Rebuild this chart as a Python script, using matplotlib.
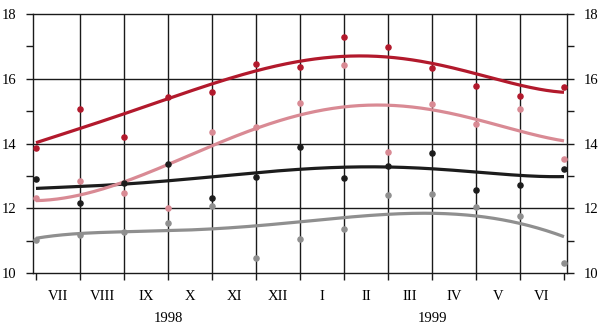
import numpy as np
import matplotlib
matplotlib.use("Agg")
import matplotlib.pyplot as plt
from matplotlib.transforms import blended_transform_factory

# Month boundaries July 1998 .. July 1999 (13 points)
months = ["VII", "VIII", "IX", "X", "XI", "XII", "I", "II", "III", "IV", "V", "VI"]
years = ["1998", "1999"]
year_pos = [3, 9]

# Observed values at each month boundary
red_obs = [13.87, 15.08, 14.20, 15.45, 15.60, 16.47, 16.37, 17.30, 16.97, 16.34, 15.77, 15.47, 15.74]
pink_obs = [12.33, 12.86, 12.47, 12.00, 14.35, 14.52, 15.26, 16.42, 13.75, 15.23, 14.61, 15.06, 13.53]
black_obs = [12.90, 12.16, 12.78, 13.36, 12.33, 12.96, 13.91, 12.93, 13.31, 13.72, 12.57, 12.72, 13.21]
gray_obs = [11.03, 11.18, 11.28, 11.56, 12.09, 10.48, 11.06, 11.37, 12.41, 12.44, 12.04, 11.77, 10.33]

# Smoothed trend values at the same boundaries
red_trend = [14.02, 14.49, 14.91, 15.38, 15.83, 16.25, 16.55, 16.69, 16.71, 16.42, 16.15, 15.84, 15.57]
pink_trend = [12.21, 12.49, 12.83, 13.27, 13.88, 14.55, 14.94, 15.12, 15.16, 14.99, 14.76, 14.44, 14.06]
black_trend = [12.62, 12.67, 12.76, 12.86, 12.96, 13.10, 13.22, 13.27, 13.29, 13.21, 13.12, 13.03, 12.98]
gray_trend = [11.10, 11.18, 11.28, 11.36, 11.39, 11.45, 11.54, 11.70, 11.85, 11.89, 11.77, 11.49, 11.15]

series = [
    (gray_obs, gray_trend, "#8f8f8f"),
    (black_obs, black_trend, "#1c1c1c"),
    (pink_obs, pink_trend, "#d98a94"),
    (red_obs, red_trend, "#b2192c"),
]

plt.rcParams["font.family"] = ["Liberation Serif", "DejaVu Serif"]

fig = plt.figure(figsize=(6.0, 3.29), dpi=100)
ax = fig.add_axes([0.055, 0.1693, 0.89, 0.7883])

x = np.arange(len(red_obs))
xs = np.linspace(0, len(red_obs) - 1, 300)

for obs, trend, color in series:
    coef = np.polyfit(x, trend, 5)
    ax.plot(xs, np.polyval(coef, xs), color=color, lw=2.3, solid_capstyle="butt", zorder=3)
    ax.plot(x, obs, "o", color=color, ms=3.7, mec=color, zorder=4)

ax.set_xlim(-0.068, 12.068)
ax.set_ylim(10, 18)

# grid
for gx in range(1, 12):
    ax.axvline(gx, color="#1a1a1a", lw=1.0, zorder=1)
for gy in (12, 14, 16):
    ax.axhline(gy, color="#1a1a1a", lw=1.0, zorder=1)

for s in ax.spines.values():
    s.set_color("#1a1a1a")
    s.set_linewidth(1.0)

# y axis both sides
ax.set_yticks([10, 12, 14, 16, 18])
ax.set_yticks([11, 13, 15, 17], minor=True)
ax.tick_params(axis="y", which="both", direction="out", length=5, width=1.0,
               left=True, right=True, labelleft=True, labelright=True,
               labelsize=10.5, pad=7, color="#1a1a1a")

# x axis: boundary ticks, month labels in between
ax.set_xticks(np.arange(13))
ax.set_xticklabels([])
ax.set_xticks(np.arange(12) + 0.5, minor=True)
ax.set_xticklabels(months, minor=True)
ax.tick_params(axis="x", which="major", direction="out", length=5, width=1.0, color="#1a1a1a")
ax.tick_params(axis="x", which="minor", length=0, labelsize=10.5, pad=12)

trans = blended_transform_factory(ax.transData, fig.transFigure)
for yp, yl in zip(year_pos, years):
    ax.text(yp, 1 - 318 / 329, yl, transform=trans, ha="center", va="center", fontsize=10.5)

fig.savefig("out.png", dpi=100)
